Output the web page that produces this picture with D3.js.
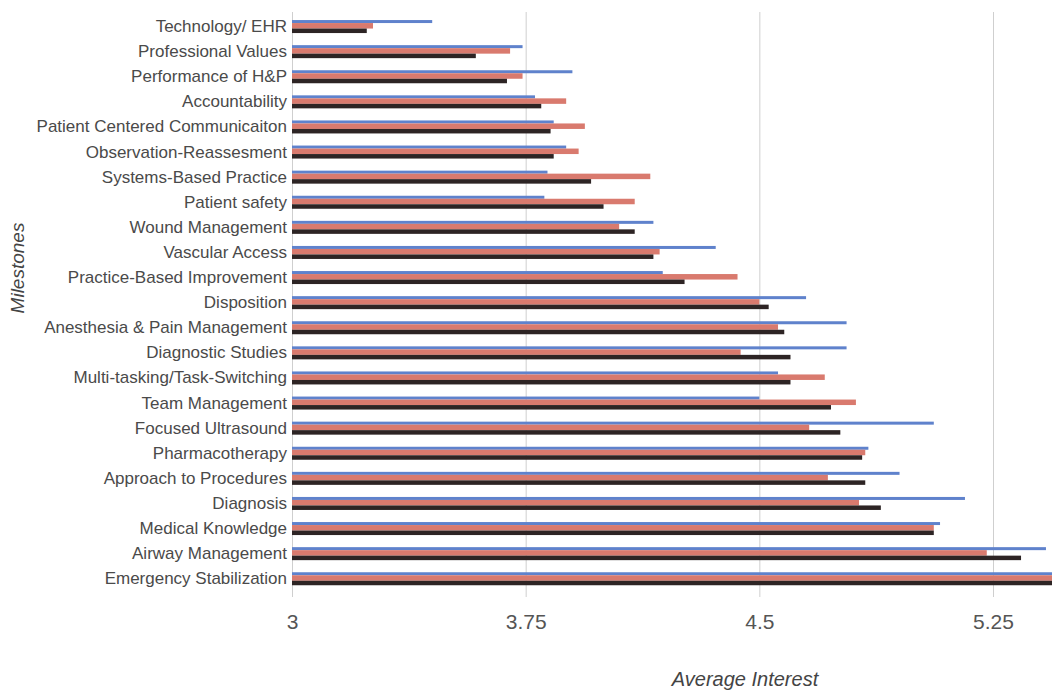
<!DOCTYPE html>
<html>
<head>
<meta charset="utf-8">
<script src="https://d3js.org/d3.v7.min.js"></script>
<style>
  body { margin: 0; background: #fff; }
</style>
</head>
<body>
<script>
//Define data
let categories = [
  'Technology/ EHR', 'Professional Values', 'Performance of H&P', 'Accountability',
  'Patient Centered Communicaiton', 'Observation-Reassesment', 'Systems-Based Practice',
  'Patient safety', 'Wound Management', 'Vascular Access', 'Practice-Based Improvement',
  'Disposition', 'Anesthesia & Pain Management', 'Diagnostic Studies',
  'Multi-tasking/Task-Switching', 'Team Management', 'Focused Ultrasound',
  'Pharmacotherapy', 'Approach to Procedures', 'Diagnosis', 'Medical Knowledge',
  'Airway Management', 'Emergency Stabilization'
];

let blueValues  = [3.45, 3.74, 3.90, 3.78, 3.84, 3.88, 3.82, 3.81, 4.16, 4.36, 4.19,
                   4.65, 4.78, 4.78, 4.56, 4.50, 5.06, 4.85, 4.95, 5.16, 5.08, 5.42, 5.50];
let redValues   = [3.26, 3.70, 3.74, 3.88, 3.94, 3.92, 4.15, 4.10, 4.05, 4.18, 4.43,
                   4.50, 4.56, 4.44, 4.71, 4.81, 4.66, 4.84, 4.72, 4.82, 5.06, 5.23, 5.50];
let blackValues = [3.24, 3.59, 3.69, 3.80, 3.83, 3.84, 3.96, 4.00, 4.10, 4.16, 4.26,
                   4.53, 4.58, 4.60, 4.60, 4.73, 4.76, 4.83, 4.84, 4.89, 5.06, 5.34, 5.50];

let xTicks = [3, 3.75, 4.5, 5.25];

let series = [
  { key: 'blue',  values: blueValues,  color: '#5f82cc', thick: 3 },
  { key: 'red',   values: redValues,   color: '#d97a6e', thick: 5.5 },
  { key: 'black', values: blackValues, color: '#2d2424', thick: 4.5 }
];

let
  width = 1052,
  height = 691;

let margin = {
  top: 14,
  bottom: 100,
  left: 292,
  right: 0
}

let svg = d3.select('body')
            .append('svg')
            .attr('width', width)
            .attr('height', height)
            .style('background', '#fff')

//Define the scales:
let xScale = d3.scaleLinear()
              .domain([3, 5.25])
              .range([margin.left, 993])

let yScale = d3.scaleBand()
              .domain(categories)
              .range([margin.top, 591.3])
              .paddingInner(0.46)
              .paddingOuter(0.23)

//gridlines
svg.append('g')
  .selectAll('line')
  .data(xTicks)
  .join('line')
  .attr('x1', d => xScale(d) + 0.5)
  .attr('x2', d => xScale(d) + 0.5)
  .attr('y1', 12)
  .attr('y2', 597)
  .attr('stroke', '#cfcfcf')
  .attr('stroke-width', 1)

//bars, one group per category
let groupH = d3.sum(series, s => s.thick)
let offsets = []
let acc = 0
series.forEach(s => { offsets.push(acc); acc += s.thick })

series.forEach((s, si) => {
  svg.append('g')
    .selectAll('rect')
    .data(categories)
    .join('rect')
    .attr('x', xScale(3))
    .attr('y', d => yScale(d) + yScale.bandwidth()/2 - groupH/2 + offsets[si])
    .attr('width', (d, i) => xScale(s.values[i]) - xScale(3))
    .attr('height', s.thick)
    .attr('fill', s.color)
})

//make axis with the scale functions
let yAxis = svg.append('g')
              .attr('transform', `translate(${margin.left}, 0)`)
              .call(d3.axisLeft(yScale).tickSize(0).tickPadding(5))

yAxis.select('.domain').remove()
yAxis.selectAll('text')
  .style('font-family', '"Liberation Sans", Arial, sans-serif')
  .style('font-size', '17px')
  .attr('fill', '#4a4a4a')

let xAxis = svg.append('g')
              .attr('transform', `translate(0, 596)`)
              .call(d3.axisBottom(xScale).tickValues(xTicks).tickFormat(d3.format('')).tickSize(0).tickPadding(18))

xAxis.select('.domain').remove()
xAxis.selectAll('text')
  .style('font-family', '"Liberation Sans", Arial, sans-serif')
  .style('font-size', '21px')
  .attr('fill', '#555')

//Draw the labels
svg.append('text')
  .attr('x', 745)
  .attr('y', 686)
  .text('Average Interest')
  .style('text-anchor', 'middle')
  .style('font-family', '"Liberation Sans", Arial, sans-serif')
  .style('font-size', '20px')
  .style('font-style', 'italic')
  .attr('fill', '#444')

svg.append('text')
  .attr('x', -268)
  .attr('y', 24)
  .text('Milestones')
  .style('text-anchor', 'middle')
  .style('font-family', '"Liberation Sans", Arial, sans-serif')
  .style('font-size', '19px')
  .style('font-style', 'italic')
  .attr('fill', '#444')
  .attr('transform', 'rotate(-90)')
</script>
</body>
</html>
